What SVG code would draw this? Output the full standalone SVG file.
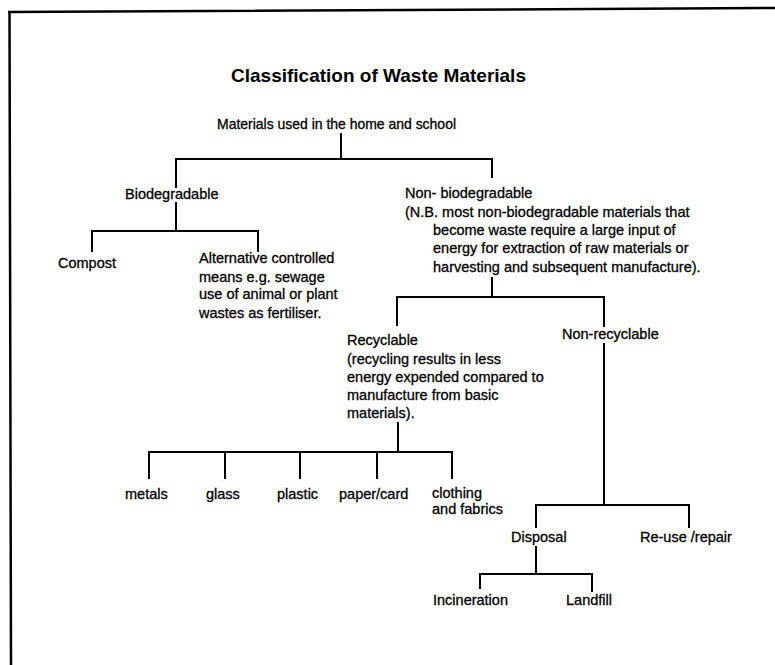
<svg xmlns="http://www.w3.org/2000/svg" width="775" height="665" viewBox="0 0 775 665">
  <style>
    .bg { fill: #ffffff; }
    .frame { fill: none; stroke: #000; stroke-width: 2.5; }
    .title { font-family: "Liberation Sans", Arial, sans-serif; font-size: 19px; font-weight: bold; fill: #000; }
    .lbl { font-family: "Liberation Sans", Arial, sans-serif; font-size: 14.5px; fill: #000; stroke: #000; stroke-width: 0.3; }
    .conn { fill: none; stroke: #000; stroke-width: 2; stroke-linecap: square; }
  </style>
  <rect class="bg" x="0" y="0" width="775" height="665"/>

  <!-- page frame (top and left edges) -->
  <path class="frame" d="M8 12 L775 8 M9.5 11 L11 665"/>

  <text class="title" x="378.5" y="82" text-anchor="middle">Classification of Waste Materials</text>

  <!-- tree connectors -->
  <g id="connectors" class="conn">
    <path d="M341 134 V159 M176 159 H492 M176 159 V187 M492 159 V177"/>
    <path d="M176 203 V231 M92 231 H258 M92 231 V251 M258 231 V251"/>
    <path d="M492 278 V297 M397 297 H604 M397 297 V325 M604 297 V326"/>
    <path d="M604 344 V505 M536 505 H689 M536 505 V527 M689 505 V527"/>
    <path d="M536 547 V574 M480 574 H592 M480 574 V588 M592 574 V591"/>
    <path d="M398 423 V452 M149 452 H452 M149 452 V478 M225 452 V478 M300 452 V478 M377 452 V478 M452 452 V478"/>
  </g>

  <g id="root">
    <text class="lbl" x="217" y="129" textLength="239" lengthAdjust="spacingAndGlyphs">Materials used in the home and school</text>
  </g>
  <g id="biodegradable">
    <text class="lbl" x="125" y="199">Biodegradable</text>
  </g>
  <g id="non-biodegradable">
    <text class="lbl" x="405" y="198">Non- biodegradable</text>
    <text class="lbl" x="405" y="217">(N.B. most non-biodegradable materials that</text>
    <text class="lbl" x="433" y="235">become waste require a large input of</text>
    <text class="lbl" x="433" y="253">energy for extraction of raw materials or</text>
    <text class="lbl" x="433" y="272">harvesting and subsequent manufacture).</text>
  </g>
  <g id="compost">
    <text class="lbl" x="58" y="268">Compost</text>
  </g>
  <g id="alternative">
    <text class="lbl" x="199" y="263">Alternative controlled</text>
    <text class="lbl" x="199" y="282">means e.g. sewage</text>
    <text class="lbl" x="199" y="299">use of animal or plant</text>
    <text class="lbl" x="199" y="318">wastes as fertiliser.</text>
  </g>
  <g id="recyclable">
    <text class="lbl" x="347" y="345">Recyclable</text>
    <text class="lbl" x="347" y="364">(recycling results in less</text>
    <text class="lbl" x="347" y="382">energy expended compared to</text>
    <text class="lbl" x="347" y="400">manufacture from basic</text>
    <text class="lbl" x="347" y="418">materials).</text>
  </g>
  <g id="non-recyclable">
    <text class="lbl" x="562" y="339">Non-recyclable</text>
  </g>
  <g id="metals"><text class="lbl" x="125" y="499">metals</text></g>
  <g id="glass"><text class="lbl" x="206" y="499">glass</text></g>
  <g id="plastic"><text class="lbl" x="277" y="499">plastic</text></g>
  <g id="paper-card"><text class="lbl" x="339" y="499">paper/card</text></g>
  <g id="clothing">
    <text class="lbl" x="432" y="498">clothing</text>
    <text class="lbl" x="432" y="514">and fabrics</text>
  </g>
  <g id="disposal"><text class="lbl" x="511" y="542">Disposal</text></g>
  <g id="reuse"><text class="lbl" x="640" y="542">Re-use /repair</text></g>
  <g id="incineration"><text class="lbl" x="433" y="605">Incineration</text></g>
  <g id="landfill"><text class="lbl" x="566" y="605">Landfill</text></g>
</svg>
